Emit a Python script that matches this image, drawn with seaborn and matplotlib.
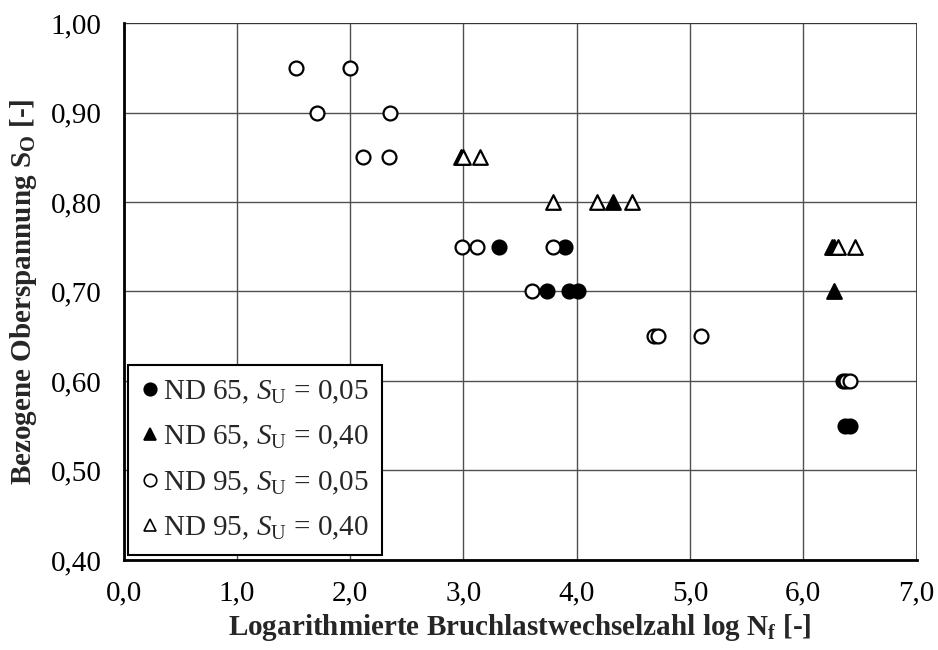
import matplotlib
matplotlib.use("Agg")
import matplotlib.pyplot as plt
import seaborn as sns
import pandas as pd

# Fatigue test results: log cycles to failure vs. relative upper stress level
nd65_su005_x = [3.31, 3.90, 3.74, 3.93, 4.01, 6.35, 6.37, 6.41]
nd65_su005_y = [0.75, 0.75, 0.70, 0.70, 0.70, 0.60, 0.55, 0.55]

nd65_su040_x = [2.98, 4.32, 6.25, 6.27, 6.27]
nd65_su040_y = [0.85, 0.80, 0.75, 0.75, 0.70]

nd95_su005_x = [1.52, 2.00, 1.71, 2.35, 2.11, 2.34, 2.99, 3.12, 3.79, 3.61,
                4.68, 4.72, 5.10, 6.38, 6.41]
nd95_su005_y = [0.95, 0.95, 0.90, 0.90, 0.85, 0.85, 0.75, 0.75, 0.75, 0.70,
                0.65, 0.65, 0.65, 0.60, 0.60]

nd95_su040_x = [3.00, 3.15, 3.79, 4.18, 4.49, 6.31, 6.46]
nd95_su040_y = [0.85, 0.85, 0.80, 0.80, 0.80, 0.75, 0.75]

series_labels = [r"ND 65, $S_\mathrm{U}$ = 0,05",
                 r"ND 65, $S_\mathrm{U}$ = 0,40",
                 r"ND 95, $S_\mathrm{U}$ = 0,05",
                 r"ND 95, $S_\mathrm{U}$ = 0,40"]

x_ticks = [0, 1, 2, 3, 4, 5, 6, 7]
x_ticklabels = ["0,0", "1,0", "2,0", "3,0", "4,0", "5,0", "6,0", "7,0"]
y_ticks = [0.40, 0.50, 0.60, 0.70, 0.80, 0.90, 1.00]
y_ticklabels = ["0,40", "0,50", "0,60", "0,70", "0,80", "0,90", "1,00"]

sns.set_theme(style="white")
plt.rcParams["font.family"] = ["Liberation Serif", "DejaVu Serif"]
plt.rcParams["mathtext.fontset"] = "custom"
plt.rcParams["mathtext.rm"] = "Liberation Serif"
plt.rcParams["mathtext.it"] = "Liberation Serif:italic"
plt.rcParams["mathtext.bf"] = "Liberation Serif:bold"

FS = 21

fig = plt.figure(figsize=(9.38, 6.5), dpi=100)
ax = fig.add_axes([0.1317, 0.1385, 0.8454, 0.8261])

frames = [
    (nd65_su005_x, nd65_su005_y, "o", "black", 100),
    (nd65_su040_x, nd65_su040_y, "^", "black", 110),
    (nd95_su005_x, nd95_su005_y, "o", "white", 100),
    (nd95_su040_x, nd95_su040_y, "^", "white", 110),
]

handles = []
for (xs, ys, mk, fc, size), lab in zip(frames, series_labels):
    df = pd.DataFrame({"logN": xs, "S_O": ys})
    sns.scatterplot(data=df, x="logN", y="S_O", marker=mk, s=size,
                    facecolor=fc, edgecolor="black", linewidth=1.6,
                    ax=ax, zorder=3, legend=False)
    handles.append(plt.Line2D([], [], linestyle="none", marker=mk,
                              markersize=9, markerfacecolor=fc,
                              markeredgecolor="black", markeredgewidth=1.2,
                              label=lab))

ax.set_xlim(0, 7)
ax.set_ylim(0.40, 1.00)
ax.set_xticks(x_ticks)
ax.set_xticklabels(x_ticklabels)
ax.set_yticks(y_ticks)
ax.set_yticklabels(y_ticklabels)

ax.grid(True, color="#505050", linewidth=1.0)
ax.set_axisbelow(True)
for side in ["left", "bottom"]:
    ax.spines[side].set_color("black")
    ax.spines[side].set_linewidth(2.0)
for side in ["top", "right"]:
    ax.spines[side].set_visible(False)
# thin outer border on top and right
ax.axhline(1.00, color="#303030", linewidth=1.2, zorder=1)
ax.axvline(7.0, color="#303030", linewidth=1.2, zorder=1)

ax.tick_params(axis="both", direction="out", length=5, width=1.6,
               colors="black", labelsize=FS)
ax.tick_params(axis="x", pad=10)
ax.tick_params(axis="y", pad=11)

ax.set_xlabel(r"Logarithmierte Bruchlastwechselzahl log $\mathbf{N_f}$ [-]",
              fontsize=FS, fontweight="bold", labelpad=4)
ax.set_ylabel(r"Bezogene Oberspannung $\mathbf{S_O}$ [-]",
              fontsize=FS, fontweight="bold", labelpad=8)

leg = ax.legend(handles=handles, loc="lower left",
                bbox_to_anchor=(0.0057, 0.0093), borderaxespad=0,
                fontsize=FS, frameon=True, fancybox=False,
                handlelength=0.6, handletextpad=0.15, labelspacing=0.62,
                borderpad=0.45)
leg.get_frame().set_edgecolor("black")
leg.get_frame().set_linewidth(1.5)
leg.get_frame().set_facecolor("white")
leg.get_frame().set_alpha(1.0)
leg.set_zorder(5)

fig.savefig("out.png", dpi=100)
